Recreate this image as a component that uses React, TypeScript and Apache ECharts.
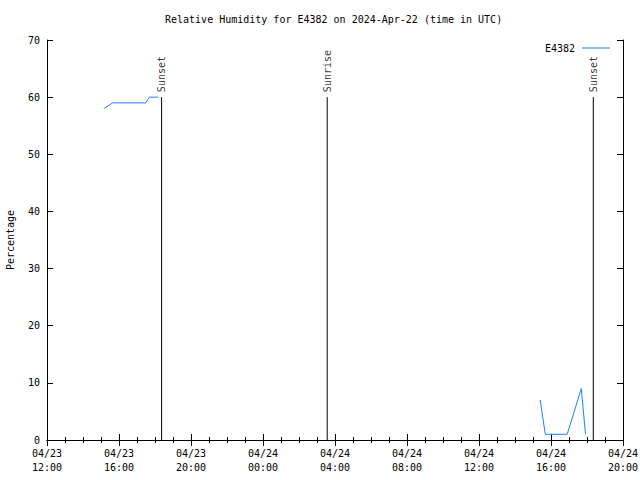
import React, { useEffect, useRef } from "react";
import * as echarts from "echarts";

const seriesName = "E4382";
const titleText = "Relative Humidity for E4382 on 2024-Apr-22 (time in UTC)";
const rhTimes: (string | null)[] = [
  "2024-04-23 15:10", "2024-04-23 15:39", "2024-04-23 17:29", "2024-04-23 17:41", "2024-04-23 18:11",
  null,
  "2024-04-24 15:24", "2024-04-24 15:41", "2024-04-24 16:54", "2024-04-24 17:41", "2024-04-24 17:55",
];
const rhValues: (number | null)[] = [58, 59, 59, 60, 60, null, 7, 1, 1, 9, 1];
const sunNames = ["Sunset", "Sunrise", "Sunset"];
const sunTimes = ["2024-04-23 18:22", "2024-04-24 03:34", "2024-04-24 18:21"];
const sunLineTop = 60;
const xMin = "2024-04-23 12:00";
const xMax = "2024-04-24 20:00";
const yMin = 0;
const yMax = 70;
const yStep = 10;
const xStepHours = 4;

const t = (s: string) => new Date(s.replace(" ", "T") + ":00Z").getTime();
const pad = (n: number) => (n < 10 ? "0" + n : "" + n);
const fmt = (v: number) => {
  const d = new Date(v);
  return `${pad(d.getUTCMonth() + 1)}/${pad(d.getUTCDate())}\n${pad(d.getUTCHours())}:${pad(d.getUTCMinutes())}`;
};

const FONT = "DejaVu Sans Mono";

export default function App() {
  const ref = useRef<HTMLDivElement>(null);
  useEffect(() => {
    if (!ref.current) return;
    const chart = echarts.init(ref.current, undefined, { renderer: "svg" });
    const rhData = rhTimes.map((s, i) => (s === null ? [null, null] : [t(s), rhValues[i]]));
    const interval = xStepHours * 3600 * 1000;
    const xCommon = {
      type: "value" as const,
      min: t(xMin),
      max: t(xMax),
      interval,
      splitLine: { show: false },
      axisLine: { lineStyle: { color: "#000", width: 1 } },
      axisTick: { show: true, inside: false, length: -6, lineStyle: { color: "#000" } },
      minorTick: { show: true, splitNumber: 4, length: -3, lineStyle: { color: "#000" } },
    };
    const yCommon = {
      type: "value" as const,
      min: yMin,
      max: yMax,
      interval: yStep,
      splitLine: { show: false },
      axisLine: { show: true, lineStyle: { color: "#000", width: 1 } },
      axisTick: { show: true, inside: false, length: -6, lineStyle: { color: "#000" } },
    };
    const sunSeries = sunTimes.map((s, i) => ({
      type: "line" as const,
      name: "sun" + i,
      data: [[t(s), 0], [t(s), sunLineTop]],
      symbol: "none",
      lineStyle: { color: "#000", width: 1 },
      silent: true,
    }));
    const sunLabels = {
      type: "scatter" as const,
      name: "sunLabels",
      data: sunTimes.map((s, i) => ({ value: [t(s), sunLineTop], name: sunNames[i] })),
      symbolSize: 0,
      silent: true,
      label: {
        show: true,
        formatter: (p: any) => p.name,
        position: "top",
        distance: 5,
        rotate: 90,
        align: "left",
        verticalAlign: "middle",
        fontFamily: FONT,
        fontSize: 10,
        color: "#000",
      },
    };
    chart.setOption({
      animation: false,
      backgroundColor: "#fff",
      title: {
        text: titleText,
        left: 165,
        top: 14,
        padding: 0,
        textStyle: { fontFamily: FONT, fontSize: 10, fontWeight: "normal", color: "#000" },
      },
      legend: {
        data: [{ name: seriesName, icon: "rect" }],
        right: 25,
        top: 38,
        align: "right",
        itemWidth: 28,
        itemHeight: 1,
        itemStyle: { color: "#1a80ff" },
        textStyle: { fontFamily: FONT, fontSize: 10, color: "#000", padding: [0, 2, 0, 0] },
      },
      grid: { left: 47, top: 40, right: 17, bottom: 40, containLabel: false, outerBoundsMode: "none" },
      xAxis: [
        {
          ...xCommon,
          position: "bottom",
          axisLabel: {
            formatter: (v: number) => fmt(v),
            fontFamily: FONT,
            fontSize: 10,
            color: "#000",
            lineHeight: 14,
            margin: 6,
          },
        },
        { ...xCommon, position: "top", axisLabel: { show: false } },
      ],
      yAxis: [
        {
          ...yCommon,
          position: "left",
          name: "Percentage",
          nameLocation: "middle",
          nameGap: 32,
          nameTextStyle: { fontFamily: FONT, fontSize: 10, color: "#000" },
          axisLabel: { fontFamily: FONT, fontSize: 10, color: "#000", margin: 7 },
        },
        { ...yCommon, position: "right", axisLabel: { show: false } },
      ],
      series: [
        {
          type: "line",
          name: seriesName,
          data: rhData,
          symbol: "none",
          showSymbol: false,
          connectNulls: false,
          color: "#1a80ff",
          lineStyle: { color: "#1a80ff", width: 1 },
        },
        ...sunSeries,
        sunLabels,
      ],
    });
    return () => chart.dispose();
  }, []);
  return (
    <div
      ref={ref}
      style={{ position: "fixed", left: 0, top: 0, width: 640, height: 480, background: "#fff" }}
    />
  );
}
